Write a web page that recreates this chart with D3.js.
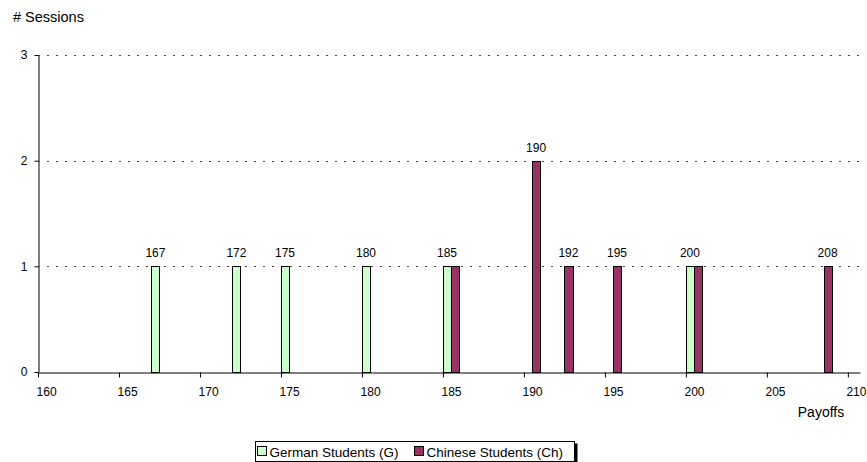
<!DOCTYPE html>
<html>
<head>
<meta charset="utf-8">
<script src="https://cdn.jsdelivr.net/npm/d3@7"></script>
<style>
  body { margin: 0; background: #fff; }
  svg { font-family: "Liberation Sans", Arial, sans-serif; }
</style>
</head>
<body>
<div id="chart"></div>
<script>
// payoffs per session, one bar per payoff value
const germanPayoffs = [167, 172, 175, 180, 185, 200];
const germanCounts  = [1, 1, 1, 1, 1, 1];
const chinesePayoffs = [185, 190, 192, 195, 200, 208];
const chineseCounts  = [1, 2, 1, 1, 1, 1];
const xTicks = [160, 165, 170, 175, 180, 185, 190, 195, 200, 205, 210];
const yTicks = [0, 1, 2, 3];
const seriesNames = ["German Students (G)", "Chinese Students (Ch)"];
const seriesColors = ["#ccffcc", "#993366"];

const width = 867, height = 462;
const margin = { top: 55, right: 7, bottom: 90, left: 38 };

const svg = d3.select("#chart").append("svg")
    .attr("width", width)
    .attr("height", height)
    .style("font-size", "12px");

const x = d3.scaleLinear()
    .domain([160, 210.75])
    .range([margin.left, width - margin.right]);

const y = d3.scaleLinear()
    .domain([0, 3])
    .range([height - margin.bottom, margin.top]);

// dotted gridlines
svg.append("g")
    .selectAll("line")
    .data(yTicks.filter(d => d > 0))
    .join("line")
    .attr("x1", margin.left)
    .attr("x2", width - margin.right)
    .attr("y1", d => Math.round(y(d)) + 0.5)
    .attr("y2", d => Math.round(y(d)) + 0.5)
    .attr("stroke", "#444")
    .attr("stroke-dasharray", "2,7");

const series = [
    { name: seriesNames[0], color: seriesColors[0], offset: 0, data: germanPayoffs.map((p, i) => ({ p, v: germanCounts[i] })) },
    { name: seriesNames[1], color: seriesColors[1], offset: 0.5, data: chinesePayoffs.map((p, i) => ({ p, v: chineseCounts[i] })) }
];

const barW = 0.5;

series.forEach(s => {
    svg.append("g")
        .selectAll("rect")
        .data(s.data)
        .join("rect")
        .attr("x", d => Math.round(x(d.p + s.offset)) + 0.5)
        .attr("y", d => Math.round(y(d.v)) + 0.5)
        .attr("width", d => Math.round(x(d.p + s.offset + barW)) - Math.round(x(d.p + s.offset)))
        .attr("height", d => Math.round(y(0)) - Math.round(y(d.v)))
        .attr("fill", s.color)
        .attr("stroke", "#000")
        .attr("stroke-width", 1);
});

// value labels: one per payoff, above the first bar at that payoff
const labelled = new Set();
const labels = [];
series.forEach(s => {
    s.data.forEach(d => {
        if (!labelled.has(d.p)) {
            labelled.add(d.p);
            labels.push({ p: d.p, v: d.v, cx: x(d.p + s.offset + barW / 2) });
        }
    });
});

svg.append("g")
    .selectAll("text")
    .data(labels)
    .join("text")
    .attr("x", d => d.cx)
    .attr("y", d => y(d.v) - 9)
    .attr("text-anchor", "middle")
    .attr("fill", "#000")
    .text(d => d.p);

// axes
const xAxis = svg.append("g")
    .attr("transform", `translate(0,${Math.round(y(0)) + 0.5})`)
    .call(d3.axisBottom(x).tickValues(xTicks).tickSize(5).tickSizeOuter(0).tickFormat(d3.format("d")));
xAxis.select(".domain").attr("stroke", "#000");
xAxis.selectAll(".tick line").attr("stroke", "#000");
xAxis.selectAll(".tick text")
    .attr("dy", "0")
    .attr("y", 23)
    .attr("x", x(160.5) - x(160))
    .attr("fill", "#000")
    .style("font-size", "12px")
    .style("font-family", "Liberation Sans, Arial, sans-serif");

const yAxis = svg.append("g")
    .attr("transform", `translate(${margin.left + 0.5},0)`)
    .call(d3.axisLeft(y).tickValues(yTicks).tickSize(4).tickSizeOuter(0).tickFormat(d3.format("d")));
yAxis.select(".domain").attr("stroke", "#555").attr("stroke-width", 1.5);
yAxis.selectAll(".tick line").attr("stroke", "#000");
yAxis.selectAll(".tick text")
    .attr("x", -11)
    .attr("fill", "#000")
    .style("font-size", "12px")
    .style("font-family", "Liberation Sans, Arial, sans-serif");

// axis titles
svg.append("text")
    .attr("x", 13)
    .attr("y", 22)
    .style("font-size", "14.5px")
    .text("# Sessions");

svg.append("text")
    .attr("x", 821)
    .attr("y", 417)
    .attr("text-anchor", "middle")
    .style("font-size", "14px")
    .text("Payoffs");

// legend
const legend = svg.append("g").attr("transform", "translate(255.5,441.5)");
legend.append("rect")
    .attr("x", 3).attr("y", 2)
    .attr("width", 319).attr("height", 20)
    .attr("fill", "#000");
legend.append("rect")
    .attr("width", 319).attr("height", 20)
    .attr("fill", "#fff")
    .attr("stroke", "#000");

const legendX = [2, 159];
series.forEach((s, i) => {
    legend.append("rect")
        .attr("x", legendX[i])
        .attr("y", 5)
        .attr("width", 9)
        .attr("height", 9)
        .attr("fill", s.color)
        .attr("stroke", "#000");
    legend.append("text")
        .attr("x", legendX[i] + 12)
        .attr("y", 15)
        .style("font-size", "13.5px")
        .text(s.name);
});
</script>
</body>
</html>
